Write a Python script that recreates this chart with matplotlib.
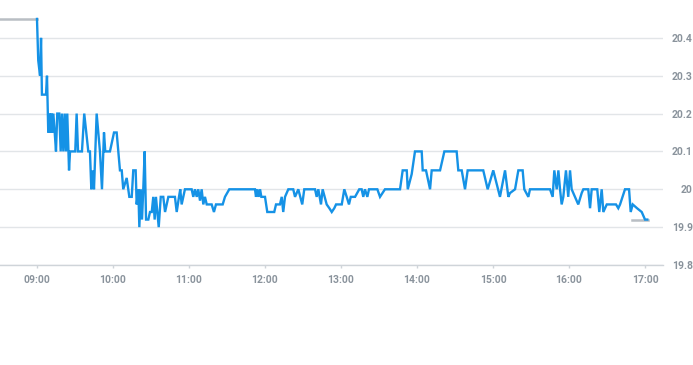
import pandas as pd
import matplotlib.pyplot as plt
import matplotlib.dates as mdates

plt.rcParams['font.family'] = ['Roboto', 'DejaVu Sans']

# minutes after 09:00 and temperature readings
t_min = [0, 1.0, 2.4, 3.2, 3.9, 7.1, 7.9, 8.9, 9.7, 10.5, 11.3, 12.1, 12.9, 14.0, 15.0,
         16.0, 17.6, 18.7, 19.7, 20.8, 21.9, 22.9, 23.9, 25.3, 26.1, 30.2, 31.3, 32.4,
         35.5, 37.3, 40.5, 41.8, 42.9, 44.0, 45.0, 47.1, 49.7, 51.3, 52.9, 53.9, 57.6,
         60.8, 62.9, 65.5, 66.9, 68.1, 70.8, 72.9, 74.8, 76.0, 77.9, 78.7, 80.0, 80.8,
         81.9, 82.9, 83.9, 85.0, 86.1, 87.9, 89.2, 90.6, 91.8, 92.9, 93.9, 95.0, 96.1,
         97.7, 99.7, 101.1, 103.7, 108.9, 110.3, 112.1, 113.1, 114.2, 116.8, 122.1,
         123.4, 124.7, 126.1, 127.3, 128.7, 130.0, 131.3, 132.6, 134.0, 137.9, 139.7,
         141.3, 146.6, 148.4, 151.8, 172.1, 172.9, 173.9, 175.0, 176.1, 177.1, 180.0,
         181.8, 187.3, 188.7, 191.8, 193.2, 194.4, 195.8, 198.4, 202.3, 203.7, 206.3,
         209.4, 211.0, 219.5, 220.8, 222.1, 224.2, 225.5, 228.7, 230.8, 232.7, 234.7,
         236.1, 240.6, 242.6, 244.5, 246.3, 247.7, 251.1, 254.4, 256.3, 257.6, 258.9,
         260.8, 262.1, 268.7, 270.8, 274.7, 286.6, 288.7, 291.9, 292.7, 295.8, 298.4,
         303.7, 304.5, 307.1, 310.3, 311.6, 318.2, 321.6, 331.3, 332.6, 335.3, 337.9,
         340.0, 352.3, 355.8, 360.2, 365.5, 369.5, 372.1, 373.4, 377.4, 380.0, 383.4,
         384.7, 387.9, 389.2, 405.0, 407.1, 408.4, 410.3, 411.6, 412.9, 414.2, 415.5,
         417.6, 419.4, 420.8, 422.1, 424.7, 427.3, 430.0, 431.3, 435.2, 436.6, 437.9,
         442.3, 443.9, 445.8, 447.1, 449.8, 452.4, 457.1, 458.9, 460.3, 464.2, 467.4,
         468.7, 470.3, 473.7, 477.4, 480.0, 481.8]
temp = [20.45, 20.34, 20.30, 20.40, 20.25, 20.25, 20.30, 20.15, 20.20, 20.15, 20.20, 20.15,
        20.20, 20.15, 20.10, 20.20, 20.20, 20.10, 20.20, 20.10, 20.20, 20.10, 20.20, 20.05,
        20.10, 20.10, 20.20, 20.10, 20.10, 20.20, 20.10, 20.10, 20.00, 20.05, 20.00, 20.20,
        20.10, 20.00, 20.15, 20.10, 20.10, 20.15, 20.15, 20.05, 20.05, 20.00, 20.03, 19.98,
        19.98, 20.05, 20.05, 19.96, 20.00, 19.90, 20.00, 19.92, 20.00, 20.10, 19.92, 19.92,
        19.94, 19.94, 19.98, 19.92, 19.98, 19.94, 19.90, 19.98, 19.98, 19.94, 19.98, 19.98,
        19.94, 19.98, 20.00, 19.96, 20.00, 20.00, 19.98, 20.00, 19.98, 20.00, 19.97, 20.00,
        19.96, 19.98, 19.96, 19.96, 19.94, 19.96, 19.96, 19.98, 20.00, 20.00, 19.98, 20.00,
        19.98, 20.00, 19.98, 19.98, 19.94, 19.94, 19.96, 19.96, 19.98, 19.94, 19.98, 20.00,
        20.00, 19.98, 20.00, 19.96, 20.00, 20.00, 19.98, 20.00, 19.96, 20.00, 19.96, 19.95,
        19.94, 19.95, 19.96, 19.96, 20.00, 19.98, 19.96, 19.98, 19.98, 20.00, 20.00, 19.98,
        20.00, 19.98, 20.00, 20.00, 19.98, 20.00, 20.00, 20.05, 20.05, 20.00, 20.04, 20.10,
        20.10, 20.05, 20.05, 20.00, 20.05, 20.05, 20.10, 20.10, 20.05, 20.05, 20.00, 20.05,
        20.05, 20.00, 20.05, 19.98, 20.05, 19.98, 19.99, 20.00, 20.05, 20.05, 20.00, 19.98,
        20.00, 20.00, 19.98, 20.05, 20.00, 20.05, 20.00, 19.96, 19.98, 20.05, 19.98, 20.05,
        20.00, 19.98, 19.96, 19.99, 20.00, 20.00, 19.95, 20.00, 20.00, 19.94, 20.00, 19.94,
        19.96, 19.96, 19.96, 19.95, 19.96, 20.00, 20.00, 19.94, 19.96, 19.95, 19.94, 19.92,
        19.92]

# grey segments: value before the data starts and last value marker
pre_min = [-29.2, 0]
pre_val = [20.45, 20.45]
last_min = [469.5, 482.6]
last_val = [19.92, 19.92]

y_ticks = [19.8, 19.9, 20.0, 20.1, 20.2, 20.3, 20.4]
y_labels = ['19.8', '19.9', '20', '20.1', '20.2', '20.3', '20.4']

day = pd.Timestamp('2024-01-01 09:00')
def to_time(m):
    return day + pd.to_timedelta(m, unit='min')

grid_c = '#e2e5e8'
text_c = '#8a939c'

fig = plt.figure(figsize=(6.93, 3.65), dpi=100)
ax = fig.add_axes([0, 1 - 265 / 365, 663 / 693, 265 / 365])

ax.plot(to_time(pre_min), pre_val, color='#b9bec4', lw=1.8)
ax.plot(to_time(last_min), last_val, color='#b9bec4', lw=1.8)
ax.plot(to_time(t_min), temp, color='#1592e6', lw=1.7, solid_joinstyle='miter')

ax.set_xlim(to_time(-29.2), to_time(494.2))
ax.set_ylim(19.8, 20.5)

ax.xaxis.set_major_locator(mdates.HourLocator())
ax.xaxis.set_major_formatter(mdates.DateFormatter('%H:%M'))
ax.set_yticks(y_ticks)
ax.set_yticklabels(y_labels)
ax.yaxis.tick_right()

ax.grid(axis='y', color=grid_c, lw=1)
for s in ['top', 'left', 'right']:
    ax.spines[s].set_visible(False)
ax.spines['bottom'].set_color('#cfd4d9')
ax.spines['bottom'].set_linewidth(1)

ax.tick_params(axis='x', length=2.5, width=1, color='#cfd4d9', pad=5,
               labelsize=7.5, labelcolor=text_c)
ax.tick_params(axis='y', length=0, pad=21.5, labelsize=7.5, labelcolor=text_c)
for lbl in ax.get_xticklabels() + ax.get_yticklabels():
    lbl.set_fontweight('bold')
for lbl in ax.get_yticklabels():
    lbl.set_horizontalalignment('right')

fig.savefig('out.png', dpi=100)
